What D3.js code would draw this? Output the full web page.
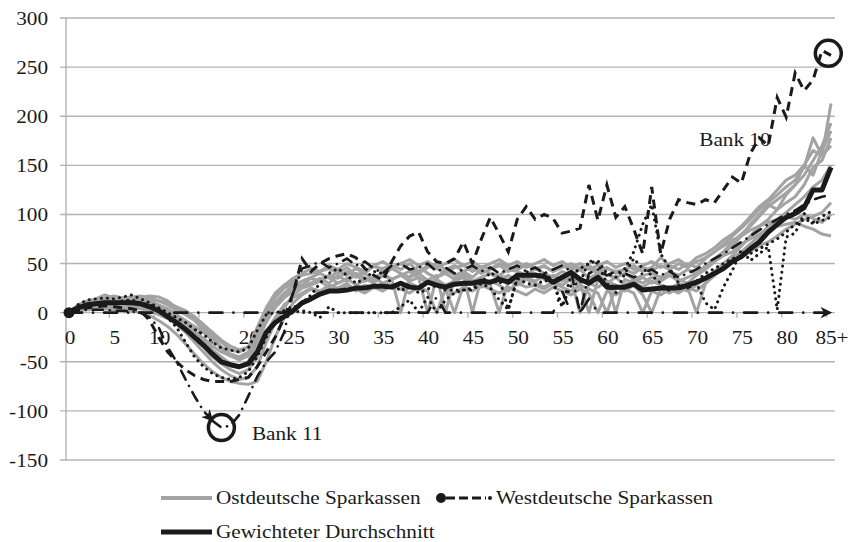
<!DOCTYPE html>
<html>
<head>
<meta charset="utf-8">
<script src="https://cdn.jsdelivr.net/npm/d3@7"></script>
<style>
  body { margin: 0; background: #fff; }
</style>
</head>
<body>
<svg id="chart" width="850" height="542"></svg>
<script>
// categories: age 0 .. 85+
const ages = d3.range(0, 86);
const ageLabels = ages.map(a => a === 85 ? "85+" : String(a));
const yTicks = [-150, -100, -50, 0, 50, 100, 150, 200, 250, 300];

// Ostdeutsche Sparkassen (grey)
const east1 = [0,8,12,14,18,15,14,15,16,17,16,12,5,0,-5,-15,-22,-30,-38,-40,-35,-15,5,20,28,32,38,40,42,45,40,46,38,42,47,45,48,44,50,42,48,45,40,46,48,42,47,45,50,46,44,48,45,47,42,48,44,46,45,40,45,42,44,40,46,43,48,44,50,46,52,56,62,70,78,86,95,105,112,120,128,135,148,178,160,213];
const east2 = [0,6,10,12,15,17,15,16,17,15,12,8,2,-2,-8,-18,-25,-35,-42,-45,-40,-20,0,15,25,30,28,35,32,38,35,42,36,40,32,38,45,40,36,48,40,35,44,38,42,36,44,40,38,44,42,38,45,40,36,42,38,44,35,40,38,36,40,34,38,40,36,42,38,44,40,48,55,62,72,80,88,98,108,115,122,130,140,155,170,193];
const east3 = [0,5,8,10,12,10,12,11,12,10,6,2,-3,-10,-18,-28,-38,-45,-52,-55,-50,-30,-10,5,15,22,28,30,35,30,38,32,40,35,30,38,34,0,36,40,33,38,0,35,40,32,36,30,38,34,30,36,32,38,30,34,38,30,0,34,30,36,28,34,30,36,32,38,34,30,38,44,52,60,68,78,90,100,110,105,120,130,150,140,165,185];
const east4 = [0,4,6,8,9,8,9,8,7,5,2,-3,-8,-15,-24,-35,-45,-52,-58,-62,-58,-45,-20,-5,8,15,20,25,22,28,25,30,22,28,25,30,28,24,30,26,32,28,24,0,28,30,26,32,28,22,30,26,28,24,30,26,22,28,24,20,0,26,22,28,18,0,24,20,26,22,28,35,42,50,58,68,78,88,95,105,112,118,130,148,155,178];
const east5 = [0,3,5,5,6,6,5,6,4,2,-2,-6,-12,-20,-30,-40,-50,-58,-64,-68,-66,-55,-30,-10,5,18,25,28,32,26,30,35,28,33,36,30,34,38,32,36,30,34,28,32,36,30,34,28,0,32,28,34,30,26,32,28,34,0,30,26,32,28,24,30,26,32,28,24,30,26,0,30,38,46,55,62,70,78,88,95,102,110,118,128,135,150];
const east6 = [0,2,3,3,4,3,4,2,0,-3,-8,-14,-22,-32,-42,-52,-60,-66,-70,-72,-73,-70,-50,-25,-5,10,18,24,20,26,22,28,24,20,26,22,28,24,20,26,22,0,24,20,26,22,28,24,20,26,22,18,24,20,26,22,18,24,20,0,22,18,24,20,0,22,18,24,20,26,22,30,38,45,52,58,62,68,72,78,85,90,95,98,102,112];
const east7 = [0,7,11,13,12,14,13,12,13,12,8,4,-2,-8,-14,-20,-28,-36,-44,-48,-44,-25,-5,10,20,28,32,36,40,35,42,38,45,40,48,42,46,50,44,40,46,50,44,48,42,46,40,44,48,42,46,50,44,48,42,46,50,44,48,42,46,40,44,48,42,46,56,48,44,50,46,55,62,68,74,78,84,88,92,95,98,95,100,96,92,100];
const east8 = [0,4,8,10,11,12,11,12,10,8,5,0,-6,-12,-20,-26,-34,-40,-44,-46,-42,-28,-8,8,18,24,28,30,34,36,30,34,38,32,36,40,34,38,42,36,0,36,40,34,38,0,36,40,34,38,32,36,40,34,38,32,36,30,34,38,32,0,34,30,36,30,34,38,32,36,40,45,52,58,62,70,75,80,85,88,90,92,88,85,80,78];
const east9 = [0,6,9,12,14,13,15,14,15,14,12,10,6,2,-4,-12,-20,-28,-34,-38,-35,-18,2,18,28,35,40,45,42,48,44,50,46,42,48,52,46,50,54,48,52,46,50,54,48,52,46,50,54,48,52,46,50,54,48,52,46,50,44,48,52,46,50,44,48,52,46,50,54,48,56,60,66,74,80,88,98,108,115,125,135,140,150,165,160,170];
const eastSeries = [east1, east2, east3, east4, east5, east6, east7, east8, east9];

// Westdeutsche Sparkassen (black, various line styles)
const bank10 = [0,3,5,6,7,6,5,4,2,-8,-25,-40,-50,-58,-64,-68,-70,-70,-70,-68,-66,-55,-40,-25,-5,20,55,42,50,55,58,60,56,45,38,33,52,68,78,82,62,52,50,55,72,50,75,97,80,62,95,108,95,100,96,81,83,86,130,94,130,97,108,85,60,128,60,95,115,112,110,115,112,125,138,132,162,178,170,219,199,244,226,237,267,262];
const bank11 = [0,2,3,3,3,2,2,1,0,-5,-15,-35,-50,-68,-85,-100,-110,-117,-115,-104,-85,-65,-50,-40,-20,20,45,48,52,46,50,55,48,52,45,40,48,50,44,46,50,42,46,40,44,48,42,46,40,44,48,42,46,40,44,48,42,0,40,44,38,42,40,36,40,44,38,42,36,40,44,50,55,60,66,72,78,84,90,95,100,104,110,115,118,120];
const west3 = [0,8,13,14,15,14,16,18,14,10,5,0,-5,-10,-17,-22,-30,-36,-38,-40,-36,-18,-2,0,2,5,10,18,30,40,45,38,30,35,42,40,30,22,28,20,24,28,23,23,23,25,30,41,35,3,35,42,38,40,33,6,38,45,50,53,40,36,45,62,90,110,60,45,30,25,32,40,45,50,55,58,60,65,70,75,82,90,95,92,98,103];
const west4 = [0,5,8,10,10,10,12,13,10,8,3,-5,-15,-30,-45,-55,-62,-66,-68,-66,-60,-45,-25,-10,-2,0,2,0,-5,6,0,0,0,0,0,0,0,6,13,0,16,0,13,20,23,23,30,25,13,3,35,30,28,33,30,6,28,30,53,50,30,20,40,55,45,38,30,22,28,25,30,10,3,26,43,64,53,60,67,3,77,81,101,90,94,97];
const west5 = [0,0,0,0,0,0,0,0,0,0,0,0,0,0,0,0,0,0,0,0,0,0,0,0,0,0,0,0,0,0,0,0,0,0,0,0,0,0,0,0,0,16,0,0,0,0,0,0,0,0,0,0,0,0,0,22,0,0,14,0,0,0,0,0,0,0,0,0,0,0,0,0,0,0,0,0,0,0,0,0,0,0,0,0,0,0];

// Gewichteter Durchschnitt
const average = [0,5,8,9,10,10,10,10,9,6,2,-4,-10,-17,-25,-33,-42,-50,-53,-55,-52,-40,-20,-10,-4,2,10,14,19,22,22,23,25,25,27,27,26,30,26,25,31,28,26,29,30,30,32,31,34,31,38,38,38,37,31,36,41,34,30,36,26,26,26,29,23,24,25,25,25,28,31,35,40,45,52,57,65,72,82,90,97,101,107,125,125,148];

// annotations (circled banks)
const annNames = ["Bank 10", "Bank 11"];
const annCircleAge = [84.7, 17];
const annCircleVal = [264, -117];
const annLabelAge = [70.3, 20.4];
const annLabelVal = [170, -130];

const svg = d3.select("#chart");
const margin = {left: 69, right: 831, top: 18, bottom: 460};

const x = d3.scaleLinear().domain([0, 85]).range([margin.left, margin.right]);
const y = d3.scaleLinear().domain([-150, 300]).range([margin.bottom, margin.top]);
const step = x(1) - x(0);

const serif = "'Liberation Serif', Tinos, 'Times New Roman', 'DejaVu Serif', serif";
const sx = 1.18; // glyphs in the original are a little wide
function addText(g, px, py, str, anchor) {
    return g.append("text")
        .attr("transform", `translate(${px},${py}) scale(${sx},1)`)
        .attr("text-anchor", anchor || "start")
        .attr("font-family", serif)
        .attr("font-size", 18)
        .attr("fill", "#1a1a1a")
        .text(str);
}

// grid
const grid = svg.append("g");
yTicks.forEach(v => {
    grid.append("line")
        .attr("x1", 60).attr("x2", 835)
        .attr("y1", y(v)).attr("y2", y(v))
        .attr("stroke", "#b3b3b3").attr("stroke-width", 1.4);
    addText(grid, 48, y(v) + 7, String(v), "end");
});
grid.append("line")
    .attr("x1", 66).attr("x2", 66)
    .attr("y1", y(300)).attr("y2", y(-150))
    .attr("stroke", "#b3b3b3").attr("stroke-width", 1.4);

// x ticks + labels
ages.filter(a => a % 5 === 0).forEach(a => {
    if (a > 0) {
        grid.append("line")
            .attr("x1", x(a) - step / 2).attr("x2", x(a) - step / 2)
            .attr("y1", y(0)).attr("y2", y(0) + 5)
            .attr("stroke", "#b3b3b3").attr("stroke-width", 1.4);
    }
    addText(grid, x(a) + 1, y(0) + 31, ageLabels[a], "middle");
});

const line = d3.line().x((d, i) => x(i)).y(d => y(d));

// arrow marker
const defs = svg.append("defs");
defs.append("marker")
    .attr("id", "arrow")
    .attr("viewBox", "0 0 10 10")
    .attr("refX", 9).attr("refY", 5)
    .attr("markerWidth", 4.5).attr("markerHeight", 4.5)
    .attr("markerUnits", "strokeWidth")
    .attr("orient", "auto")
    .append("path").attr("d", "M0,0 L10,5 L0,10 L3,5 Z").attr("fill", "#1a1a1a");

// east lines
const gEast = svg.append("g");
eastSeries.forEach(s => {
    gEast.append("path")
        .attr("d", line(s))
        .attr("fill", "none")
        .attr("stroke", "#a3a3a3")
        .attr("stroke-width", 3)
        .attr("stroke-linejoin", "round");
});

// west lines
const gWest = svg.append("g")
    .attr("fill", "none").attr("stroke", "#1a1a1a").attr("stroke-width", 2.6);

gWest.append("path").attr("d", line(west5))
    .attr("stroke-dasharray", "13 11 0.1 11").attr("stroke-linecap", "round")
    .attr("marker-end", "url(#arrow)");
gWest.append("path").attr("d", line(west3))
    .attr("stroke-dasharray", "0.1 6").attr("stroke-linecap", "round").attr("stroke-width", 3);
gWest.append("path").attr("d", line(west4))
    .attr("stroke-dasharray", "0.1 6").attr("stroke-linecap", "round").attr("stroke-width", 3);

// bank 11: arrow into the circle, then continue
const b11head = bank11.slice(0, 17);
gWest.append("path").attr("d", line(b11head))
    .attr("stroke-dasharray", "10 7 0.1 7").attr("stroke-linecap", "round")
    .attr("marker-end", "url(#arrow)");
gWest.append("path")
    .attr("d", d3.line().x((d, i) => x(i + 16)).y(d => y(d))(bank11.slice(16)))
    .attr("stroke-dasharray", "10 7 0.1 7").attr("stroke-linecap", "round");

gWest.append("path").attr("d", line(bank10))
    .attr("stroke-dasharray", "9 6").attr("stroke-width", 3);

// average
svg.append("path")
    .attr("d", line(average))
    .attr("fill", "none")
    .attr("stroke", "#1a1a1a")
    .attr("stroke-width", 5)
    .attr("stroke-linejoin", "round");

// start marker
svg.append("circle")
    .attr("cx", x(0)).attr("cy", y(0)).attr("r", 5.5)
    .attr("fill", "#1a1a1a");

// annotations
const gAnn = svg.append("g");
annNames.forEach((n, i) => {
    gAnn.append("circle")
        .attr("cx", x(annCircleAge[i])).attr("cy", y(annCircleVal[i]))
        .attr("r", 13)
        .attr("fill", "none").attr("stroke", "#1a1a1a").attr("stroke-width", 3.5);
    addText(gAnn, x(annLabelAge[i]), y(annLabelVal[i]), n, "start");
});

// legend
const leg = svg.append("g");
leg.append("line").attr("x1", 161).attr("x2", 212).attr("y1", 498).attr("y2", 498)
    .attr("stroke", "#a3a3a3").attr("stroke-width", 4);
addText(leg, 216, 504, "Ostdeutsche Sparkassen");
leg.append("circle").attr("cx", 441).attr("cy", 498).attr("r", 5).attr("fill", "#1a1a1a");
leg.append("line").attr("x1", 446).attr("x2", 486).attr("y1", 498).attr("y2", 498)
    .attr("stroke", "#1a1a1a").attr("stroke-width", 3).attr("stroke-dasharray", "9 4");
leg.append("circle").attr("cx", 490).attr("cy", 498).attr("r", 2).attr("fill", "#1a1a1a");
addText(leg, 496, 504, "Westdeutsche Sparkassen");
leg.append("line").attr("x1", 161).attr("x2", 212).attr("y1", 532).attr("y2", 532)
    .attr("stroke", "#1a1a1a").attr("stroke-width", 5);
addText(leg, 216, 538, "Gewichteter Durchschnitt");
</script>
</body>
</html>
